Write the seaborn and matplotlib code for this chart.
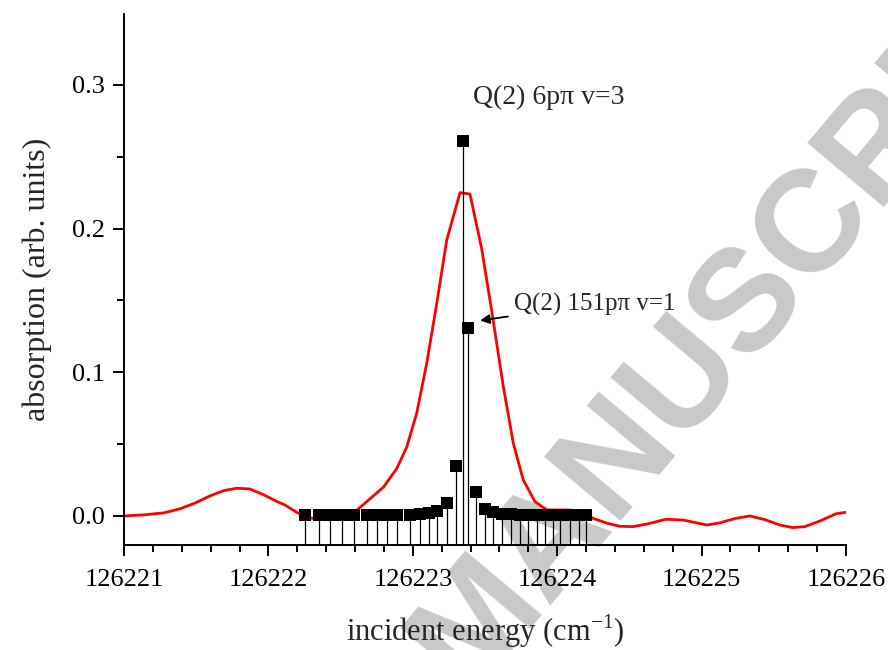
import numpy as np
import pandas as pd
import matplotlib
matplotlib.use("Agg")
import matplotlib.pyplot as plt
import seaborn as sns
from matplotlib.ticker import MultipleLocator, FormatStrFormatter

# Convolved absorption profile (red curve)
curve_energy = [126221.000, 126221.139, 126221.277, 126221.388, 126221.492, 126221.596,
                126221.693, 126221.782, 126221.872, 126221.970, 126222.060, 126222.108,
                126222.247, 126222.337, 126222.427, 126222.517, 126222.600, 126222.681,
                126222.796, 126222.889, 126222.958, 126223.027, 126223.096, 126223.166,
                126223.235, 126223.327, 126223.396, 126223.477, 126223.546, 126223.627,
                126223.696, 126223.765, 126223.846, 126223.927, 126224.066, 126224.158,
                126224.247, 126224.344, 126224.434, 126224.524, 126224.628, 126224.752,
                126224.870, 126224.953, 126225.036, 126225.126, 126225.230, 126225.334,
                126225.438, 126225.542, 126225.632, 126225.715, 126225.819, 126225.930,
                126226.000]
curve_absorption = [0.0000, 0.0008, 0.0022, 0.0050, 0.0090, 0.0140,
                    0.0177, 0.0193, 0.0188, 0.0146, 0.0100, 0.0080,
                    -0.0005, -0.0022, -0.0026, -0.0008, 0.0030, 0.0100,
                    0.0200, 0.0330, 0.0480, 0.0715, 0.1060, 0.1480,
                    0.1920, 0.2250, 0.2240, 0.1860, 0.1430, 0.0900,
                    0.0506, 0.0250, 0.0100, 0.0042, 0.0042, 0.0037,
                    -0.0016, -0.0050, -0.0072, -0.0074, -0.0055, -0.0023,
                    -0.0028, -0.0045, -0.0063, -0.0048, -0.0018, 0.0000,
                    -0.0025, -0.0063, -0.0081, -0.0074, -0.0035, 0.0015,
                    0.0026]

# Individual line strengths (stick spectrum)
line_energy = [126222.25, 126222.35, 126222.43, 126222.51, 126222.59, 126222.68,
               126222.75, 126222.82, 126222.89, 126222.98, 126223.05, 126223.11,
               126223.17, 126223.24, 126223.30, 126223.35, 126223.38, 126223.44,
               126223.50, 126223.557, 126223.62, 126223.68, 126223.74, 126223.80,
               126223.86, 126223.915, 126223.97, 126224.02, 126224.09, 126224.15,
               126224.20]
line_strength = [0.0005, 0.0004, 0.0004, 0.0004, 0.0005, 0.0005,
                 0.0006, 0.0007, 0.0008, 0.0010, 0.0013, 0.0020,
                 0.0035, 0.0090, 0.0345, 0.2610, 0.1310, 0.0165,
                 0.0050, 0.0025, 0.0015, 0.0012, 0.0010, 0.0008,
                 0.0007, 0.0006, 0.0006, 0.0005, 0.0005, 0.0005,
                 0.0005]

x_ticks = [126221, 126222, 126223, 126224, 126225, 126226]
y_ticks = [0.0, 0.1, 0.2, 0.3]

sns.set_style("ticks")
plt.rcParams["font.family"] = ["Liberation Serif", "DejaVu Serif"]
plt.rcParams["mathtext.fontset"] = "custom"
plt.rcParams["mathtext.rm"] = "Liberation Serif"

fig = plt.figure(figsize=(8.88, 6.5), dpi=100)

# Faint diagonal watermark behind the plot
fig.text(468 / 888, 1 - 692 / 650, "MANUSCRIPT", rotation=50, rotation_mode="anchor",
         ha="left", va="baseline", fontsize=104, fontweight="bold",
         family="Liberation Sans", color="#c8c9cb", zorder=-5)

ax = fig.add_axes([124 / 888, 1 - 545 / 650, (846 - 124) / 888, (545 - 14) / 650])
ax.patch.set_alpha(0)

ymin, ymax = -0.0202, 0.3493
ax.set_xlim(126221, 126226)
ax.set_ylim(ymin, ymax)

curve = pd.DataFrame({"energy": curve_energy, "absorption": curve_absorption})
lines = pd.DataFrame({"energy": line_energy, "strength": line_strength})

sns.lineplot(data=curve, x="energy", y="absorption", color="#ff0000", lw=2.0,
             sort=False, estimator=None, ax=ax, zorder=2)
ax.vlines(lines["energy"], ymin, lines["strength"], color="black", lw=0.9, zorder=3)
sns.scatterplot(data=lines, x="energy", y="strength", marker="s", s=70,
                color="black", edgecolor="black", linewidth=0, ax=ax, zorder=4)

sns.despine(ax=ax)
for side in ("left", "bottom"):
    ax.spines[side].set_linewidth(1.4)
    ax.spines[side].set_color("black")

ax.set_xticks(x_ticks)
ax.set_yticks(y_ticks)
ax.xaxis.set_minor_locator(MultipleLocator(0.2))
ax.yaxis.set_minor_locator(MultipleLocator(0.05))
ax.yaxis.set_major_formatter(FormatStrFormatter("%.1f"))
ax.xaxis.set_major_formatter(FormatStrFormatter("%d"))
ax.tick_params(which="major", direction="out", length=8, width=1.4, labelsize=19,
               colors="black")
ax.tick_params(axis="x", which="major", pad=9)
ax.tick_params(axis="y", which="major", pad=6)
ax.tick_params(which="minor", direction="out", length=5, width=1.4, colors="black")

ax.set_xlabel(r"incident energy (cm$^{\mathregular{-1}}$)", fontsize=22, labelpad=16)
ax.set_ylabel("absorption (arb. units)", fontsize=23, labelpad=14)

ax.text(126223.42, 0.291, "Q(2) 6pπ v=3", fontsize=20, ha="left", va="center")
ax.annotate("Q(2) 151pπ v=1", xy=(126223.466, 0.136), xytext=(126223.70, 0.1475),
            fontsize=18, ha="left", va="center",
            arrowprops=dict(arrowstyle="-|>", color="black", lw=1.3,
                            mutation_scale=14, shrinkA=2, shrinkB=0))

fig.savefig("out.png", dpi=100)
